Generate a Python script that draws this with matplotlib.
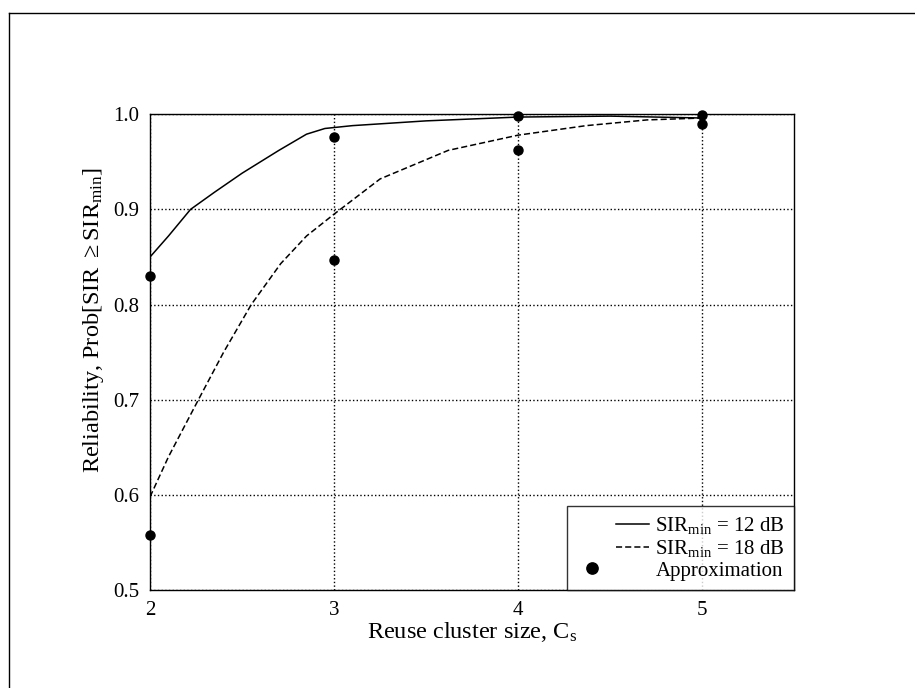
import numpy as np
import matplotlib
matplotlib.use("Agg")
import matplotlib.pyplot as plt
from matplotlib.lines import Line2D
from matplotlib.legend_handler import HandlerLine2D

plt.rcParams['font.family'] = ['Liberation Serif', 'DejaVu Serif']
plt.rcParams['mathtext.fontset'] = 'custom'
plt.rcParams['mathtext.rm'] = 'Liberation Serif'
plt.rcParams['mathtext.it'] = 'Liberation Serif:italic'

# SIR_min = 12 dB curve
x_12 = [2.0, 2.1, 2.22, 2.35, 2.5, 2.7, 2.85, 2.95, 3.1, 3.5, 4.0, 4.5, 5.0]
y_12 = [0.850, 0.872, 0.900, 0.918, 0.938, 0.962, 0.979, 0.985, 0.988, 0.993, 0.997, 0.998, 0.996]

# SIR_min = 18 dB curve
x_18 = [2.0, 2.1, 2.26, 2.4, 2.55, 2.71, 2.85, 3.0, 3.25, 3.62, 4.0, 4.37, 4.7, 5.0]
y_18 = [0.598, 0.640, 0.699, 0.750, 0.800, 0.843, 0.872, 0.895, 0.932, 0.962, 0.978, 0.988, 0.994, 0.996]

# approximation points
x_approx = [2, 2, 3, 3, 4, 4, 5, 5]
y_approx = [0.830, 0.558, 0.976, 0.847, 0.998, 0.962, 0.999, 0.990]

xticks = [2, 3, 4, 5]
yticks = [0.5, 0.6, 0.7, 0.8, 0.9, 1.0]


# legend handles: short lines on the right, the dot further left
class RightLine(HandlerLine2D):
    def get_xdata(self, legend, xdescent, ydescent, width, height, fontsize):
        x0 = -xdescent
        xd = np.array([x0 + 0.55 * width, x0 + width])
        return xd, xd


class LeftDot(HandlerLine2D):
    def get_xdata(self, legend, xdescent, ydescent, width, height, fontsize):
        x0 = -xdescent
        xd = np.array([x0 + 0.12 * width, x0 + 0.32 * width])
        return xd, xd


fig = plt.figure(figsize=(9.15, 6.88), dpi=100)
ax = fig.add_axes([0.164, 0.1424, 0.704, 0.6916])

l12, = ax.plot(x_12, y_12, color='black', lw=1.1, label=r'SIR$_{\rm min}$ = 12 dB')
l18, = ax.plot(x_18, y_18, color='black', lw=1.1, ls=(0, (4, 2)), label=r'SIR$_{\rm min}$ = 18 dB')
dots, = ax.plot(x_approx, y_approx, 'o', color='black', ms=6.5, label='Approximation',
                clip_on=False, zorder=5)

ax.set_xlim(2, 5.5)
ax.set_ylim(0.5, 1.0)
ax.set_xticks(xticks)
ax.set_yticks(yticks)
ax.set_xticklabels([str(t) for t in xticks])
ax.set_yticklabels(['%.1f' % t for t in yticks])
ax.tick_params(length=0, labelsize=15, pad=8)
ax.grid(True, color='black', ls=':', lw=1.0)
for s in ax.spines.values():
    s.set_linewidth(1.0)

ax.set_xlabel(r'Reuse cluster size, C$_{\rm s}$', fontsize=17.5, labelpad=0)
ax.set_ylabel(r'Reliability, Prob[SIR $\geq$SIR$_{\rm min}$]', fontsize=17.5)
ax.yaxis.set_label_coords(-0.068, 0.567)

leg = ax.legend(loc='lower right', fontsize=15, frameon=True, fancybox=False,
                edgecolor='black', borderaxespad=0, markerscale=1.25,
                handlelength=3.5, handletextpad=0.3, labelspacing=0.1,
                borderpad=0.45,
                handler_map={l12: RightLine(), l18: RightLine(), dots: LeftDot()})
leg.get_frame().set_linewidth(1.0)

# outer frame of the original figure
fig.add_artist(Line2D([9 / 915, 9 / 915], [0, 1 - 13 / 688], color='black', lw=1.0))
fig.add_artist(Line2D([9 / 915, 1], [1 - 13 / 688, 1 - 13 / 688], color='black', lw=1.0))

fig.savefig('out.png', dpi=100)
